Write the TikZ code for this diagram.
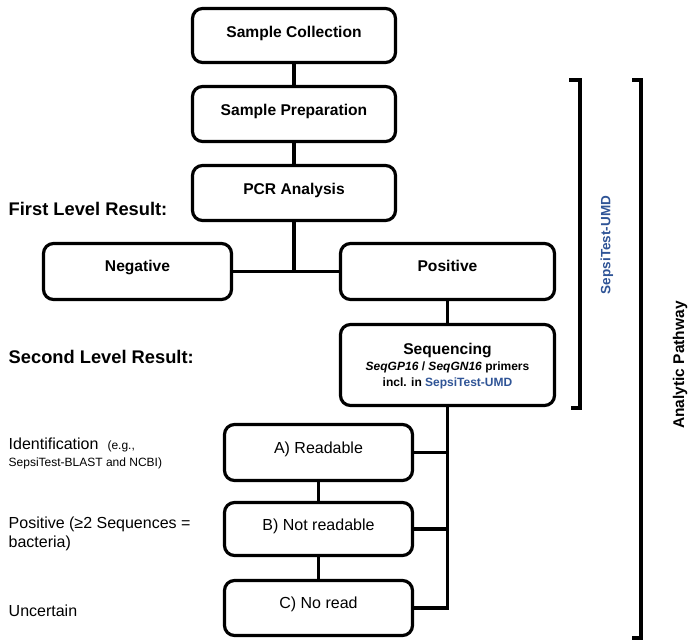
\documentclass[tikz,border=0pt]{standalone}
\usepackage{fontspec}
\setmainfont{Liberation Sans}
\definecolor{umdblue}{RGB}{47,84,150}
\tikzset{
  box/.style={draw=black, line width=3.2pt, rounded corners=10pt, inner sep=0pt},
  conn/.style={line width=3.2pt},
  btitle/.style={font=\fontsize{15.6}{18}\selectfont\bfseries, inner sep=0pt, anchor=base},
  rtitle/.style={font=\fontsize{16}{19}\selectfont, inner sep=0pt, anchor=base},
  small/.style={font=\fontsize{12}{14}\selectfont\bfseries, inner sep=0pt, anchor=base},
  level/.style={font=\fontsize{18.3}{21}\selectfont\bfseries, inner sep=0pt, anchor=base west},
  side/.style={font=\fontsize{16}{19}\selectfont, inner sep=0pt, anchor=base west},
  sidesmall/.style={font=\fontsize{12}{14}\selectfont, inner sep=0pt, anchor=base west},
  brk/.style={line width=3.2pt},
}
\begin{document}
\begin{tikzpicture}[x=1pt,y=-1pt]
\useasboundingbox (0,0) rectangle (690,641);
% upper column
\node[box, minimum width=203pt, minimum height=54pt] (coll) at (294,35.5) {};
\node[btitle] (collt) at (294,37.5) {Sample Collection};
\node[box, minimum width=203pt, minimum height=55pt] (prep) at (294,114) {};
\node[btitle] (prept) at (294,115.5) {Sample Preparation};
\node[box, minimum width=203pt, minimum height=55pt] (pcr) at (294,193) {};
\node[btitle] (pcrt) at (294,194.5) {PCR Analysis};
% first level
\node[box, minimum width=188pt, minimum height=56pt] (neg) at (137.5,271.5) {};
\node[btitle] (negt) at (137.5,271.5) {Negative};
\node[box, minimum width=214pt, minimum height=56pt] (pos) at (447.5,271.5) {};
\node[btitle] (post) at (447.5,271.5) {Positive};
% sequencing
\node[box, minimum width=214pt, minimum height=81pt] (seq) at (447.5,365) {};
\node[btitle] (seqt) at (447.5,354) {Sequencing};
\node[small] (seqa) at (447.5,370.7) {\textit{SeqGP16} / \textit{SeqGN16} primers};
\node[small] (seqb) at (447.5,386) {incl. in \textcolor{umdblue}{SepsiTest-UMD}};
% second level boxes
\node[box, minimum width=188pt, minimum height=56pt] (ra) at (318.5,452.5) {};
\node[rtitle] (rat) at (318.5,453) {A) Readable};
\node[box, minimum width=188pt, minimum height=53pt] (rb) at (318.5,529) {};
\node[rtitle] (rbt) at (318.5,530.7) {B) Not readable};
\node[box, minimum width=188pt, minimum height=55pt] (rc) at (318.5,608) {};
\node[rtitle] (rct) at (318.5,608.3) {C) No read};
% connectors
\coordinate (j1) at (294,271.5);
\draw[conn] (coll.south) -- (prep.north);
\draw[conn] (prep.south) -- (pcr.north);
\draw[conn] (pcr.south) -- (j1);
\draw[conn] (neg.east) -- (pos.west);
\draw[conn] (pos.south) -- (seq.north);
\draw[conn] (seq.south) |- (rc.east);
\draw[conn] (ra.east) -- (ra.east -| seq.south);
\draw[conn] (rb.east) -- (rb.east -| seq.south);
\draw[conn] (ra.south) -- (rb.north);
\draw[conn] (rb.south) -- (rc.north);
% left labels
\node[level] (first) at (8.5,215) {First Level Result:};
\node[level] (second) at (8.5,363) {Second Level Result:};
\node[side] (ident) at (8.5,449) {Identification\hspace{9pt}{\fontsize{12}{14}\selectfont(e.g.,}};
\node[sidesmall] (ident2) at (8.5,466.5) {SepsiTest-BLAST and NCBI)};
\node[side] (posl) at (8.5,528) {Positive (≥2 Sequences =};
\node[side] (posl2) at (8.5,547) {bacteria)};
\node[side] (unc) at (8.5,616) {Uncertain};
% brackets
\coordinate (b1a) at (569,80);
\coordinate (b1b) at (580,80);
\coordinate (b1c) at (580,408);
\coordinate (b1d) at (571,408);
\draw[brk] (b1a) -- (b1b) -- (b1c) -- (b1d);
\coordinate (b2a) at (632,80);
\coordinate (b2b) at (641,80);
\coordinate (b2c) at (641,638);
\coordinate (b2d) at (632,638);
\draw[brk] (b2a) -- (b2b) -- (b2c) -- (b2d);
\node[rotate=90, font=\fontsize{13.5}{16}\selectfont\bfseries, text=umdblue, inner sep=0pt] (umd) at (607,245) {SepsiTest-UMD};
\node[rotate=90, font=\fontsize{15.5}{18}\selectfont\bfseries, inner sep=0pt] (ap) at (680,365) {Analytic Pathway};
\end{tikzpicture}
\end{document}
